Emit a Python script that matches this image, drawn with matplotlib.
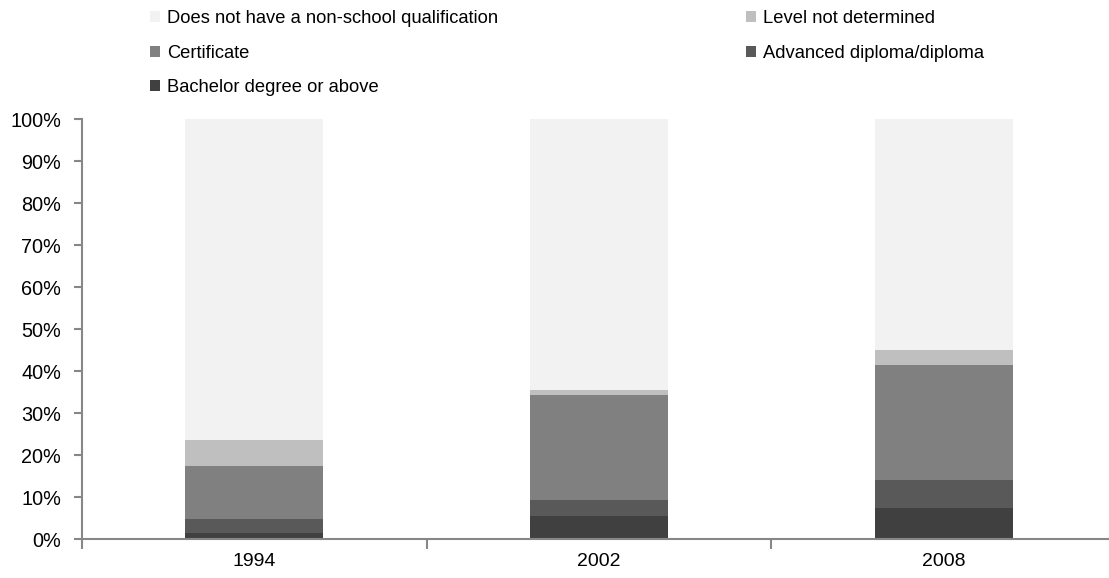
import numpy as np
import matplotlib.pyplot as plt
from matplotlib.patches import Patch
from matplotlib.ticker import PercentFormatter, FixedLocator

plt.rcParams['font.family'] = ['Liberation Sans', 'DejaVu Sans']

# --- data: share of persons by highest non-school qualification (%) ---
years = ['1994', '2002', '2008']
bachelor = [1.6, 5.6, 7.4]
adv_diploma = [3.3, 3.8, 6.7]
certificate = [12.5, 25.0, 27.5]
level_nd = [6.2, 1.2, 3.5]
no_qual = [76.4, 64.4, 54.9]

series = [
    ('Bachelor degree or above', bachelor, '#404040'),
    ('Advanced diploma/diploma', adv_diploma, '#595959'),
    ('Certificate', certificate, '#808080'),
    ('Level not determined', level_nd, '#bfbfbf'),
    ('Does not have a non-school qualification', no_qual, '#f2f2f2'),
]

fig = plt.figure(figsize=(11.09, 5.78), dpi=100)
ax = fig.add_axes([82 / 1109, 38.7 / 578, 1034 / 1109, 420 / 578])

x = np.arange(len(years))
bottom = np.zeros(len(years))
for name, vals, col in series:
    ax.bar(x, vals, width=0.4, bottom=bottom, color=col, label=name, linewidth=0)
    bottom += np.array(vals)

axis_col = '#878787'
ax.set_xlim(-0.5, 2.5)
ax.set_ylim(0, 100)
ax.set_yticks(np.arange(0, 101, 10))
ax.yaxis.set_major_formatter(PercentFormatter(decimals=0))
ax.set_xticks(x)
ax.set_xticklabels(years)
ax.xaxis.set_minor_locator(FixedLocator([-0.5, 0.5, 1.5, 2.5]))
ax.tick_params(axis='x', which='major', length=0, pad=10, labelsize=14)
ax.tick_params(axis='x', which='minor', length=7, width=1.5, color=axis_col)
ax.tick_params(axis='y', length=6, width=1.5, color=axis_col, pad=9, labelsize=14.3)

for side in ['top', 'right']:
    ax.spines[side].set_visible(False)
for side in ['left', 'bottom']:
    ax.spines[side].set_color(axis_col)
    ax.spines[side].set_linewidth(1.5)

# legend laid out in two columns
col_of = {name: col for name, _, col in series}
left_names = ['Does not have a non-school qualification', 'Certificate',
              'Bachelor degree or above']
right_names = ['Level not determined', 'Advanced diploma/diploma']
for names, xpos in [(left_names, 143), (right_names, 739)]:
    handles = [Patch(facecolor=col_of[n], edgecolor='none', label=n) for n in names]
    fig.legend(handles=handles, loc='upper left',
               bbox_to_anchor=(xpos / 1109, 1 - 3 / 578),
               frameon=False, fontsize=13.2, handlelength=0.55, handleheight=0.55,
               handletextpad=0.35, labelspacing=0.95, borderaxespad=0)

fig.savefig('out.png', dpi=100)
